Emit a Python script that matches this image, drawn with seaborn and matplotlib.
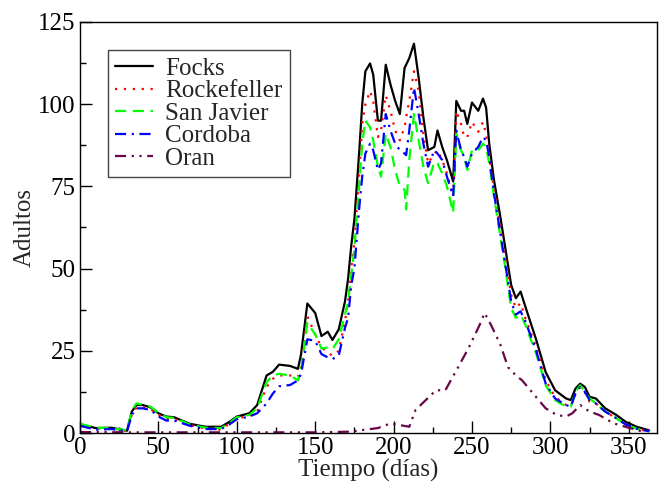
import matplotlib
matplotlib.use("Agg")
import matplotlib.pyplot as plt
from matplotlib.ticker import MultipleLocator
from matplotlib.lines import Line2D
import seaborn as sns
import pandas as pd

days = [0, 10, 20, 30, 33, 36, 40, 45, 50, 55, 60, 70, 80, 90, 95, 100, 108, 113, 119, 123,
        127, 134, 139, 141, 145, 150, 154, 158, 161, 165, 169, 171, 173, 175, 178, 180, 182, 185, 187, 190,
        192, 195, 198, 201, 204, 207, 208, 210, 213, 216, 219, 222, 226, 228, 231, 234, 238, 240, 243, 245,
        247, 250, 254, 257, 259, 261, 264, 268, 271, 275, 278, 281, 284, 291, 297, 303, 310, 313, 316, 319,
        322, 325, 329, 335, 342, 348, 355, 363]

focks = [2.7, 1.5, 1.6, 0.7, 6.5, 8.5, 8.5, 7.8, 6.0, 5.0, 4.8, 2.8, 1.9, 1.9, 3.3, 5.0, 6.0, 8.5, 17.5, 18.6,
         20.8, 20.4, 19.5, 24, 39.4, 36.5, 29.5, 30.8, 28.3, 31.5, 40, 47, 57, 65, 85, 100, 110, 112.4, 109, 95,
         95, 112, 106, 101, 97, 111, 112, 114, 118.4, 108, 96, 86, 87, 92, 87, 83, 76.5, 101, 98, 98,
         94, 100.5, 98, 101.7, 99, 88, 77, 66, 57, 45, 41, 43, 38.5, 28.3, 18.5, 13, 10.5, 10, 13.5, 15,
         14, 11, 10.5, 7.5, 5.5, 3.4, 1.9, 0.8]

rockefeller = [2.5, 1.3, 1.4, 0.6, 5.5, 7.8, 7.8, 7.3, 5.5, 4.3, 4.3, 2.5, 1.3, 1.0, 2.8, 4.5, 5.2, 6.5, 14, 16.5,
               17.5, 17.5, 17, 20, 35.5, 30, 26, 24.5, 23.5, 25, 34, 40, 50, 58, 78, 94, 100, 104, 101, 90,
               92, 102.7, 98, 92, 89, 93, 96, 101, 110, 104, 91, 82, 85, 86, 83, 79, 72, 98, 94, 90,
               90, 94.6, 91.6, 94.6, 91, 85, 74, 63, 54, 42, 38, 39.5, 35, 26, 16, 11, 8.5, 8, 12, 14,
               12.5, 9.5, 9, 6.5, 4.5, 2.6, 1.3, 0.5]

san_javier = [2.8, 1.6, 1.5, 0.8, 7, 9, 8.6, 8.0, 6.2, 4.8, 4.6, 2.6, 1.6, 1.5, 3.0, 4.8, 5.5, 7.5, 15.5, 17.5,
              18, 17.5, 16, 19, 33.5, 30, 25.7, 26, 25.5, 28.5, 36, 40, 48, 56, 75, 88, 95, 93, 89, 81,
              78, 91, 87, 80, 75, 74, 68, 83, 97, 89, 81, 76, 82.5, 82, 79, 75, 67, 91, 86, 84,
              80, 86, 86, 88, 87, 82, 72, 60, 51, 38, 35, 36, 33, 24, 14.5, 10, 8, 8, 12.5, 14.5,
              12.5, 10.5, 9, 6.5, 4.5, 2.6, 1.3, 0.5]

cordoba = [2.2, 1.0, 1.2, 0.5, 5.5, 7.5, 7.5, 7.0, 5.0, 3.8, 3.8, 2.2, 1.2, 1.2, 2.5, 4.2, 5.0, 6.0, 9, 12,
           14.2, 14.6, 16, 18, 28.5, 28, 24, 23, 22.5, 23.5, 32, 35, 45, 50, 68, 78, 85, 88, 86, 80,
           82, 97, 92, 88, 86, 85, 84.5, 92, 105, 97, 88, 81, 86, 85, 83, 78, 72, 92, 86, 84,
           81, 85, 87, 90, 89, 84, 73, 61, 52, 40, 36, 37, 34, 25, 15, 10.5, 8.5, 8, 12, 14,
           12.5, 10, 9, 6.5, 4.5, 2.6, 1.3, 0.5]

oran_days = [0, 30, 60, 90, 120, 150, 172, 190, 198, 210, 214, 227, 233, 240, 248, 255, 258, 262, 268, 273,
             278, 282, 289, 297, 304, 310, 314, 319, 325, 331, 340, 347, 359]
oran = [0.3, 0.2, 0.2, 0.2, 0.2, 0.2, 0.4, 1.5, 2.9, 1.9, 7, 13, 13, 19, 26, 33, 36.5, 33, 27, 20,
        17.5, 16, 12, 7.5, 5.5, 5, 6, 8.5, 6.5, 5.5, 3, 2, 0.4]

labels = ["Focks", "Rockefeller", "San Javier", "Cordoba", "Oran"]
colors = ["black", "#ff0000", "#00ff00", "#0000ff", "#670748"]
dashes = [(None, None), (1, 3), (5, 3), (5, 2.5, 1, 2.5), (5, 2.5, 1, 2.5, 1, 2.5)]

sns.set_theme(style="white")
plt.rcParams["font.family"] = ["Liberation Serif", "DejaVu Serif"]

fig = plt.figure(figsize=(6.59, 4.88), dpi=100)
ax = fig.add_axes([80 / 659, 55 / 488, 577 / 659, 411 / 488])

series = [(days, focks), (days, rockefeller), (days, san_javier), (days, cordoba), (oran_days, oran)]
handles = []
for (xs, ys), lab, col, ds in zip(series, labels, colors, dashes):
    df = pd.DataFrame({"x": xs, "y": ys})
    sns.lineplot(data=df, x="x", y="y", ax=ax, color=col, linewidth=1.6, legend=False)
    ln = ax.get_lines()[-1]
    if ds[0] is not None:
        ln.set_dashes(ds)
    h = Line2D([], [], color=col, linewidth=1.6)
    if ds[0] is not None:
        h.set_dashes(ds)
    handles.append(h)

ax.set_xlim(0, 368)
ax.set_ylim(0, 125)
ax.xaxis.set_major_locator(MultipleLocator(50))
ax.xaxis.set_minor_locator(MultipleLocator(25))
ax.yaxis.set_major_locator(MultipleLocator(25))
ax.yaxis.set_minor_locator(MultipleLocator(12.5))
ax.tick_params(which="major", direction="in", length=8.5, width=1, labelsize=18,
               bottom=True, left=True, top=False, right=False, colors="black", pad=3)
ax.tick_params(which="minor", direction="in", length=4.3, width=1,
               bottom=True, left=True, top=False, right=False, colors="black")
for s in ax.spines.values():
    s.set_color("black")
    s.set_linewidth(1.0)

ax.set_xlabel("Tiempo (días)", fontsize=18, labelpad=0)
ax.set_ylabel("Adultos", fontsize=18, labelpad=1.5)

leg = ax.legend(handles, labels, loc="upper left", bbox_to_anchor=(0.0485, 0.932),
                borderaxespad=0, fontsize=18, frameon=True, fancybox=False,
                handlelength=1.5, handletextpad=0.5, labelspacing=0.0,
                borderpad=0.3, framealpha=1)
leg.get_frame().set_edgecolor("#444444")
leg.get_frame().set_linewidth(1.0)

fig.savefig("out.png", dpi=100)
